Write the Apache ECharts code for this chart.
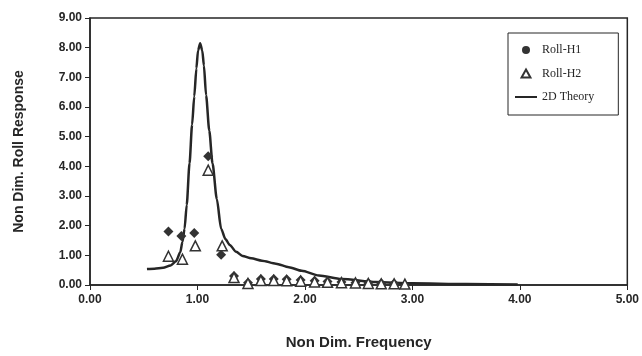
<!DOCTYPE html>
<html>
<head>
<meta charset="utf-8">
<script src="https://cdn.jsdelivr.net/npm/echarts@6/dist/echarts.min.js"></script>
<style>
html,body{margin:0;padding:0;background:#fff;}
#chart{width:642px;height:356px;}
</style>
</head>
<body>
<div id="chart"></div>
<script>
// Roll-H1 (filled markers)
var h1X = [0.73, 0.85, 0.97, 1.10, 1.22, 1.34, 1.47, 1.59, 1.71, 1.83, 1.96, 2.09, 2.21, 2.34, 2.47, 2.59, 2.71, 2.83];
var h1Y = [1.80, 1.65, 1.75, 4.34, 1.02, 0.30, 0.08, 0.20, 0.20, 0.19, 0.17, 0.14, 0.12, 0.10, 0.08, 0.07, 0.06, 0.05];
// Roll-H2 (open triangles)
var h2X = [0.73, 0.86, 0.98, 1.10, 1.23, 1.34, 1.47, 1.59, 1.71, 1.83, 1.96, 2.09, 2.21, 2.34, 2.47, 2.59, 2.71, 2.83, 2.93];
var h2Y = [0.97, 0.87, 1.32, 3.87, 1.32, 0.25, 0.05, 0.15, 0.15, 0.14, 0.13, 0.10, 0.09, 0.08, 0.07, 0.05, 0.04, 0.04, 0.03];
// 2D Theory (line)
var thX = [0.53, 0.60, 0.68, 0.75, 0.80, 0.84, 0.86, 0.88, 0.90, 0.926, 0.95, 0.97, 0.99, 1.005, 1.025, 1.045, 1.06, 1.08, 1.11, 1.14, 1.18, 1.22, 1.26, 1.30, 1.36, 1.42, 1.50, 1.60, 1.73, 1.85, 1.97, 2.13, 2.34, 2.66, 3.00, 3.50, 3.98];
var thY = [0.54, 0.55, 0.58, 0.66, 0.80, 1.10, 1.45, 1.90, 2.70, 4.10, 5.40, 6.35, 7.30, 7.90, 8.15, 7.90, 7.40, 6.40, 5.20, 4.10, 2.90, 1.90, 1.55, 1.35, 1.12, 0.98, 0.90, 0.82, 0.72, 0.60, 0.48, 0.32, 0.20, 0.10, 0.06, 0.03, 0.02];

var seriesNames = ['Roll-H1', 'Roll-H2', '2D Theory'];
var xTitle = 'Non Dim. Frequency';
var yTitle = 'Non Dim. Roll Response';

function pairs(xs, ys) { return xs.map(function (x, i) { return [x, ys[i]]; }); }

var ink = '#262626';
var chart = echarts.init(document.getElementById('chart'), null, {renderer: 'canvas'});
chart.setOption({
  animation: false,
  backgroundColor: '#ffffff',
  grid: {left: 90, right: 11, top: 18, bottom: 71, show: true, borderColor: ink, borderWidth: 1.5, backgroundColor: 'transparent'},
  xAxis: {
    type: 'value', min: 0, max: 5, interval: 1,
    name: xTitle, nameLocation: 'middle', nameGap: 50,
    nameTextStyle: {fontFamily: 'Liberation Sans', fontWeight: 'bold', fontSize: 15, color: ink},
    axisLine: {show: true, lineStyle: {color: ink, width: 1.5}},
    axisTick: {show: true, length: 5, lineStyle: {color: ink}},
    axisLabel: {margin: 9, fontFamily: 'Liberation Sans', fontWeight: 'bold', fontSize: 12, color: ink,
      formatter: function (v) { return v.toFixed(2); }},
    splitLine: {show: false}
  },
  yAxis: {
    type: 'value', min: 0, max: 9, interval: 1,
    name: yTitle, nameLocation: 'middle', nameGap: 64, nameRotate: 90,
    nameTextStyle: {fontFamily: 'Liberation Sans', fontWeight: 'bold', fontSize: 14, color: ink},
    axisLine: {show: true, lineStyle: {color: ink, width: 1.5}},
    axisTick: {show: true, length: 5, lineStyle: {color: ink}},
    axisLabel: {margin: 8, fontFamily: 'Liberation Sans', fontWeight: 'bold', fontSize: 12, color: ink,
      formatter: function (v) { return v.toFixed(2); }},
    splitLine: {show: false}
  },
  legend: {
    orient: 'vertical', left: 508, top: 33,
    padding: [10, 24, 11, 6],
    itemWidth: 22, itemHeight: 8, itemGap: 9.5,
    symbolKeepAspect: true,
    borderColor: ink, borderWidth: 1, backgroundColor: '#fff',
    textStyle: {fontFamily: 'Liberation Serif', fontSize: 12, lineHeight: 14, color: ink},
    data: [
      {name: seriesNames[0], icon: 'circle'},
      {name: seriesNames[1], icon: 'path://M5,0L10,9L0,9Z'},
      {name: seriesNames[2], itemStyle: {color: 'rgba(0,0,0,0)', borderWidth: 0, opacity: 0}}
    ]
  },
  series: [
    {
      name: seriesNames[2], type: 'line', data: pairs(thX, thY),
      smooth: 0.25, smoothMonotone: 'x', symbol: 'none',
      lineStyle: {color: ink, width: 2.5}, itemStyle: {color: ink}, z: 2
    },
    {
      name: seriesNames[0], type: 'scatter', data: pairs(h1X, h1Y),
      symbol: 'diamond', symbolSize: 10,
      itemStyle: {color: '#333333', opacity: 1}, z: 3
    },
    {
      name: seriesNames[1], type: 'scatter', data: pairs(h2X, h2Y),
      symbol: 'triangle', symbolSize: 10,
      itemStyle: {color: '#ffffff', borderColor: '#333333', borderWidth: 1.5, opacity: 1}, z: 4
    }
  ]
});
</script>
</body>
</html>
